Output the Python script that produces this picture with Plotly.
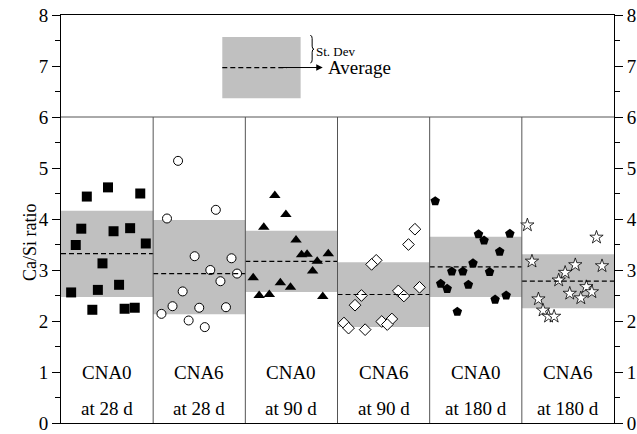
import plotly.graph_objects as go

# ---------------- data ----------------
group_names = ["CNA0", "CNA6", "CNA0", "CNA6", "CNA0", "CNA6"]
group_ages = ["at 28 d", "at 28 d", "at 90 d", "at 90 d", "at 180 d", "at 180 d"]

g1_x = [0.28, 0.51, 0.86, 0.22, 0.57, 0.75, 0.16, 0.92, 0.45, 0.63, 0.40, 0.11, 0.34, 0.69, 0.80]
g1_y = [4.44, 4.62, 4.50, 3.81, 3.76, 3.82, 3.49, 3.52, 3.13, 2.71, 2.61, 2.56, 2.22, 2.24, 2.26]
g2_x = [1.27, 1.68, 1.15, 1.45, 1.85, 1.62, 1.91, 1.73, 1.32, 1.21, 1.50, 1.79, 1.09, 1.385, 1.56]
g2_y = [5.14, 4.18, 4.01, 3.27, 3.23, 3.00, 2.93, 2.78, 2.58, 2.29, 2.26, 2.27, 2.14, 2.01, 1.88]
g3_x = [2.32, 2.44, 2.20, 2.55, 2.61, 2.67, 2.90, 2.78, 2.73, 2.085, 2.38, 2.49, 2.15, 2.26, 2.84]
g3_y = [4.46, 4.09, 3.84, 3.59, 3.30, 3.31, 3.32, 3.17, 2.98, 2.85, 2.75, 2.66, 2.50, 2.52, 2.48]
g4_x = [3.84, 3.77, 3.42, 3.37, 3.89, 3.66, 3.72, 3.26, 3.19, 3.07, 3.12, 3.48, 3.59, 3.54, 3.30]
g4_y = [3.80, 3.50, 3.19, 3.11, 2.66, 2.59, 2.49, 2.50, 2.31, 1.96, 1.86, 1.99, 2.04, 1.93, 1.83]
g5_x = [4.06, 4.53, 4.59, 4.87, 4.76, 4.47, 4.24, 4.36, 4.65, 4.12, 4.19, 4.42, 4.71, 4.83, 4.30]
g5_y = [4.35, 3.70, 3.58, 3.71, 3.36, 3.13, 2.97, 2.97, 2.96, 2.73, 2.63, 2.71, 2.42, 2.50, 2.18]
g6_x = [5.06, 5.81, 5.11, 5.58, 5.87, 5.47, 5.40, 5.70, 5.76, 5.52, 5.64, 5.18, 5.23, 5.29, 5.35]
g6_y = [3.88, 3.64, 3.17, 3.10, 3.08, 2.95, 2.80, 2.67, 2.57, 2.54, 2.45, 2.43, 2.21, 2.09, 2.09]

band_lo = [2.47, 2.13, 2.57, 1.88, 2.47, 2.25]
band_hi = [4.16, 3.98, 3.77, 3.15, 3.65, 3.31]
band_mean = [3.32, 2.93, 3.17, 2.52, 3.06, 2.78]

y_ticks = [0, 1, 2, 3, 4, 5, 6, 7, 8]
y_title = "Ca/Si ratio"

# legend key values (in data units)
key_x = [1.75, 2.60]
key_y = [6.37, 7.57]
key_mean = 6.97

FONT = "Liberation Serif"

groups_x = [g1_x, g2_x, g3_x, g4_x, g5_x, g6_x]
groups_y = [g1_y, g2_y, g3_y, g4_y, g5_y, g6_y]
styles = [
    dict(symbol="square", size=10, color="black", line=dict(width=0)),
    dict(symbol="circle", size=9, color="white", line=dict(color="black", width=1)),
    dict(symbol="triangle-up", size=10, color="black", line=dict(width=0)),
    dict(symbol="diamond", size=9, color="white", line=dict(color="black", width=1)),
    dict(symbol="pentagon", size=10, color="black", line=dict(width=0)),
    dict(symbol="star", size=10, color="white", line=dict(color="black", width=0.8)),
]

fig = go.Figure()
shapes = []
for i in range(6):
    shapes.append(dict(type="rect", xref="x", yref="y", x0=i, x1=i + 1,
                       y0=band_lo[i], y1=band_hi[i], fillcolor="#c0c0c0",
                       line=dict(width=0), layer="below"))
    shapes.append(dict(type="line", xref="x", yref="y", x0=i, x1=i + 1,
                       y0=band_mean[i], y1=band_mean[i],
                       line=dict(color="black", width=1.2, dash="5px,3px")))
for i in range(1, 6):
    shapes.append(dict(type="line", xref="x", yref="y", x0=i, x1=i, y0=0, y1=6,
                       line=dict(color="#555555", width=1)))
shapes.append(dict(type="line", xref="x", yref="y", x0=0, x1=6, y0=6, y1=6,
                   line=dict(color="#555555", width=1)))
# legend key
shapes.append(dict(type="rect", xref="x", yref="y", x0=key_x[0], x1=key_x[1],
                   y0=key_y[0], y1=key_y[1], fillcolor="#c0c0c0",
                   line=dict(width=0), layer="below"))
shapes.append(dict(type="line", xref="x", yref="y", x0=key_x[0], x1=2.45,
                   y0=key_mean, y1=key_mean,
                   line=dict(color="black", width=1.2, dash="5px,3px")))
# curly brace
bx0, bxm, bx1 = 2.705, 2.725, 2.745
bt, bm, bb = 7.60, 7.33, 7.06
d = 0.06
brace = (f"M {bx0},{bt} Q {bxm},{bt} {bxm},{bt-d} L {bxm},{bm+d} Q {bxm},{bm} {bx1},{bm} "
         f"Q {bxm},{bm} {bxm},{bm-d} L {bxm},{bb+d} Q {bxm},{bb} {bx0},{bb}")
shapes.append(dict(type="path", xref="x", yref="y", path=brace,
                   line=dict(color="black", width=1)))

for i in range(6):
    fig.add_trace(go.Scatter(x=groups_x[i], y=groups_y[i], mode="markers",
                             marker=styles[i], showlegend=False, cliponaxis=False))

# invisible trace to activate the right axis
fig.add_trace(go.Scatter(x=[0], y=[0], yaxis="y2", mode="markers",
                         marker=dict(opacity=0), showlegend=False, hoverinfo="skip"))

annotations = []
for i in range(6):
    annotations.append(dict(x=i + 0.5, y=1.0, xref="x", yref="y", text=group_names[i],
                            showarrow=False, font=dict(family=FONT, size=19, color="black")))
    annotations.append(dict(x=i + 0.5, y=0.29, xref="x", yref="y", text=group_ages[i],
                            showarrow=False, font=dict(family=FONT, size=19, color="black")))
annotations.append(dict(x=2.84, y=key_mean, ax=2.35, ay=key_mean, xref="x", yref="y",
                        axref="x", ayref="y", text="", showarrow=True, arrowhead=2,
                        arrowsize=1.3, arrowwidth=1, arrowcolor="black"))
annotations.append(dict(x=2.87, y=key_mean, xref="x", yref="y", text="Average",
                        xanchor="left", showarrow=False,
                        font=dict(family=FONT, size=19, color="black")))
annotations.append(dict(x=2.745, y=7.29, xref="x", yref="y", text="St. Dev",
                        xanchor="left", showarrow=False,
                        font=dict(family=FONT, size=13, color="black")))
# y-axis title
annotations.append(dict(x=-0.056, y=3.55, xref="paper", yref="y", text=y_title,
                        textangle=-90, showarrow=False, xanchor="center", yanchor="middle",
                        font=dict(family=FONT, size=18, color="black")))

axis_common = dict(range=[0, 8], tickvals=y_ticks, ticktext=[str(t) for t in y_ticks],
                   ticks="outside", ticklen=8, tickwidth=1, tickcolor="black",
                   showgrid=False, zeroline=False, showline=True, linecolor="black",
                   linewidth=1, automargin=False,
                   tickfont=dict(family=FONT, size=19, color="black"),
                   minor=dict(ticks="outside", ticklen=5, dtick=0.5, tickcolor="black",
                              showgrid=False))

fig.update_layout(
    width=637, height=434,
    margin=dict(l=61, r=23, t=15, b=11),
    plot_bgcolor="white", paper_bgcolor="white",
    xaxis=dict(range=[0, 6], showticklabels=False, ticks="", showgrid=False,
               automargin=False,
               zeroline=False, showline=True, linecolor="black", linewidth=1, mirror=True),
    yaxis=dict(**axis_common),
    yaxis2=dict(**axis_common, overlaying="y", side="right"),
    shapes=shapes,
    annotations=annotations,
)

fig.write_html("out.html")
